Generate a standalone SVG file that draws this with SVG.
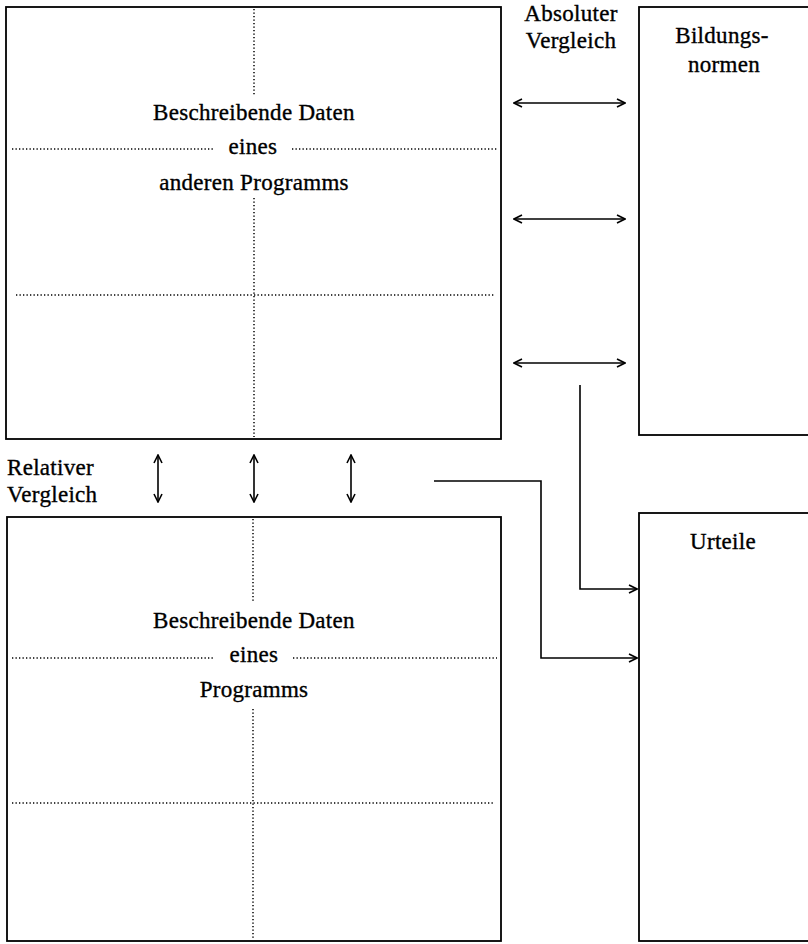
<svg xmlns="http://www.w3.org/2000/svg" width="808" height="944" viewBox="0 0 808 944">
<defs>
<marker id="ah" viewBox="0 0 10 10" refX="9" refY="5" markerWidth="10" markerHeight="10" markerUnits="userSpaceOnUse" orient="auto-start-reverse">
<path d="M1,1 L9,5 L1,9" fill="none" stroke="#000" stroke-width="1.6"/>
</marker>
<style>
.box{fill:#fff;stroke:#000;stroke-width:1.8}
.dot{stroke:#000;stroke-width:1.5;stroke-dasharray:1.3 2.2;fill:none}
.t{font-family:"Liberation Serif","Times New Roman",serif;font-size:23px;letter-spacing:0.3px;fill:#000;stroke:#000;stroke-width:0.35}
.c{text-anchor:middle}
.con{fill:none;stroke:#000;stroke-width:1.6}
</style>
</defs>
<rect width="808" height="944" fill="#fff"/>

<g id="box-anderes-programm">
<rect class="box" x="6" y="7" width="495" height="432"/>
<line class="dot" x1="254" y1="9" x2="254" y2="95"/>
<line class="dot" x1="254" y1="198" x2="254" y2="437"/>
<line class="dot" x1="12" y1="149" x2="213" y2="149"/>
<line class="dot" x1="292" y1="149" x2="497" y2="149"/>
<line class="dot" x1="16" y1="295" x2="495" y2="295"/>
<text class="t c" x="254" y="120">Beschreibende Daten</text>
<text class="t c" x="253" y="154">eines</text>
<text class="t c" x="254" y="190">anderen Programms</text>
</g>

<g id="box-programm">
<rect class="box" x="7" y="517" width="494" height="424"/>
<line class="dot" x1="253" y1="519" x2="253" y2="603"/>
<line class="dot" x1="253" y1="709" x2="253" y2="940"/>
<line class="dot" x1="12" y1="658" x2="213" y2="658"/>
<line class="dot" x1="293" y1="658" x2="497" y2="658"/>
<line class="dot" x1="12" y1="803" x2="495" y2="803"/>
<text class="t c" x="254" y="628">Beschreibende Daten</text>
<text class="t c" x="254" y="662">eines</text>
<text class="t c" x="254" y="697">Programms</text>
</g>

<g id="box-bildungsnormen">
<rect class="box" x="639" y="7" width="190" height="428"/>
<text class="t c" x="722" y="43">Bildungs-</text>
<text class="t c" x="724" y="72">normen</text>
</g>

<g id="box-urteile">
<rect class="box" x="639" y="513" width="190" height="428"/>
<text class="t c" x="723" y="549">Urteile</text>
</g>

<g id="label-absolut">
<text class="t c" x="571" y="21">Absoluter</text>
<text class="t c" x="571" y="48">Vergleich</text>
</g>

<g id="label-relativ">
<text class="t" x="7" y="475">Relativer</text>
<text class="t" x="7" y="502">Vergleich</text>
</g>

<g id="connectors">
<line class="con" x1="514" y1="103" x2="625" y2="103" marker-start="url(#ah)" marker-end="url(#ah)"/>
<line class="con" x1="514" y1="219" x2="625" y2="219" marker-start="url(#ah)" marker-end="url(#ah)"/>
<line class="con" x1="514" y1="363" x2="625" y2="363" marker-start="url(#ah)" marker-end="url(#ah)"/>
<line class="con" x1="158" y1="455" x2="158" y2="502" marker-start="url(#ah)" marker-end="url(#ah)"/>
<line class="con" x1="254" y1="455" x2="254" y2="502" marker-start="url(#ah)" marker-end="url(#ah)"/>
<line class="con" x1="351" y1="455" x2="351" y2="502" marker-start="url(#ah)" marker-end="url(#ah)"/>
<polyline class="con" points="580,385 580,589 637,589" marker-end="url(#ah)"/>
<polyline class="con" points="434,481 541,481 541,658 637,658" marker-end="url(#ah)"/>
</g>
</svg>
